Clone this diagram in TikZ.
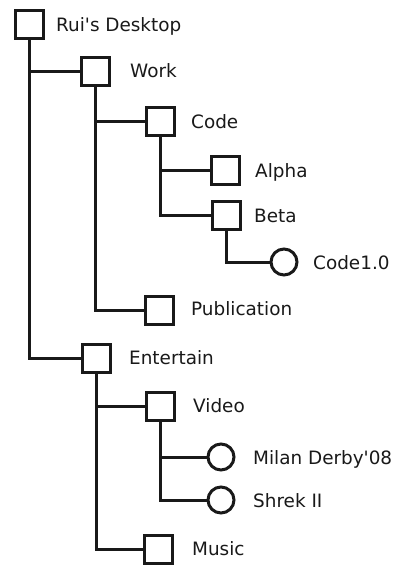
\documentclass[tikz,border=0pt]{standalone}
\usepackage{fontspec}
\setmainfont{DejaVu Sans}[Ligatures=TeXOff]
\begin{document}
\begin{tikzpicture}[x=1pt,y=-1pt,
  folder/.style={draw=black!90,line width=3pt,fill=white,minimum size=28pt,inner sep=0pt},
  leaf/.style={draw=black!90,line width=3pt,fill=white,circle,minimum size=26pt,inner sep=0pt},
  caption/.style={anchor=base west,inner sep=0pt,text=black!90,font=\fontsize{18.4}{22}\selectfont},
  link/.style={draw=black!90,line width=3pt}]
\useasboundingbox (0,0) rectangle (399,568);

% folder and file markers
\node[folder] (desk) at (29.5,24) {};
\node[folder] (work) at (95.5,71.5) {};
\node[folder] (code) at (160.5,121.5) {};
\node[folder] (alpha) at (225.5,170) {};
\node[folder] (beta) at (226,215) {};
\node[leaf]   (c10) at (284,262) {};
\node[folder] (pub) at (159,310.5) {};
\node[folder] (ent) at (96.5,358) {};
\node[folder] (video) at (160.5,406) {};
\node[leaf]   (milan) at (221,457) {};
\node[leaf]   (shrek) at (221,500) {};
\node[folder] (music) at (158.5,549) {};

% labels
\node[caption] (tdesk) at (56,31) {Rui's Desktop};
\node[caption] (twork) at (130,77) {Work};
\node[caption] (tcode) at (191,128) {Code};
\node[caption] (talpha) at (255,177) {Alpha};
\node[caption] (tbeta) at (254,222) {Beta};
\node[caption] (tc10) at (313,269) {Code1.0};
\node[caption] (tpub) at (191,315) {Publication};
\node[caption] (tent) at (129,364) {Entertain};
\node[caption] (tvideo) at (193,412) {Video};
\node[caption] (tmilan) at (253,464) {Milan Derby'08};
\node[caption] (tshrek) at (253,507) {Shrek II};
\node[caption] (tmusic) at (192,555) {Music};

% tree connectors
\draw[link] (desk.south) |- (work.west);
\draw[link] (desk.south) |- (ent.west);
\draw[link] (work.south) |- (code.west);
\draw[link] (work.south) |- (pub.west);
\draw[link] (code.south) |- (alpha.west);
\draw[link] (code.south) |- (beta.west);
\draw[link] (beta.south) |- (c10.west);
\draw[link] (ent.south) |- (video.west);
\draw[link] (ent.south) |- (music.west);
\draw[link] (video.south) |- (milan.west);
\draw[link] (video.south) |- (shrek.west);
\end{tikzpicture}
\end{document}
